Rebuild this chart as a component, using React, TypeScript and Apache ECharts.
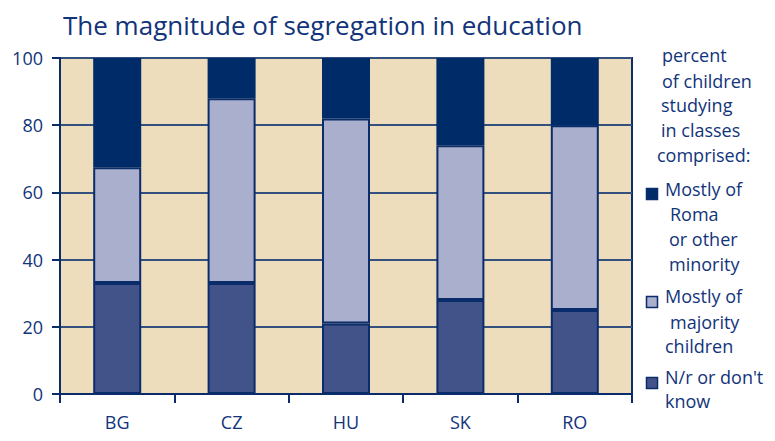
import React, { useEffect, useRef } from "react";
import * as echarts from "echarts";

const categories = ["BG", "CZ", "HU", "SK", "RO"];
const nrValues = [33, 33, 21, 28, 25];
const majorityValues = [34.5, 55, 61, 46, 55];
const romaValues = [32.5, 12, 18, 26, 20];
const seriesNames = ["N/r or don't know", "Mostly of majority children", "Mostly of Roma or other minority"];
const yTicks = [0, 20, 40, 60, 80, 100];
const titleText = "The magnitude of segregation in education";
const legendHeader = ["percent", "of children", "studying", "in classes", "comprised:"];
const romaLines = ["Mostly of", "Roma", "or other", "minority"];
const majorityLines = ["Mostly of", "majority", "children"];
const nrLines = ["N/r or don't", "know"];

const NAVY = "#0B2C6B";
const TEXT = "#12347A";
const DARK = "#002B69";
const LIGHT = "#A9AFCC";
const MEDIUM = "#42538A";
const BG = "#EEDDBD";
const FONT = "Open Sans";

export default function App() {
  const ref = useRef<HTMLDivElement>(null);
  useEffect(() => {
    if (!ref.current) return;
    const chart = echarts.init(ref.current, null, { renderer: "svg" });
    const fs = 18;
    const graphics: any[] = [];
    const headerX = [662, 662, 661, 661, 657];
    const headerY = [57, 83, 107, 132, 157];
    legendHeader.forEach((t, i) => {
      graphics.push({
        type: "text",
        left: headerX[i],
        top: headerY[i] - 11,
        style: { text: t, fill: TEXT, font: `${fs}px "${FONT}"` },
      });
    });
    const addItem = (lines: string[], xs: number[], ys: number[], sqY: number, color: string) => {
      graphics.push({
        type: "rect",
        shape: { x: 646.5, y: sqY, width: 11, height: 11 },
        style: { fill: color, stroke: NAVY, lineWidth: 1.5 },
      });
      lines.forEach((t, i) => {
        graphics.push({
          type: "text",
          left: xs[i],
          top: ys[i] - 11,
          style: { text: t, fill: TEXT, font: `${fs}px "${FONT}"` },
        });
      });
    };
    addItem(romaLines, [665, 670, 669, 669], [191, 216, 241, 266], 188.5, DARK);
    addItem(majorityLines, [665, 670, 665], [298, 324, 348], 296.5, LIGHT);
    addItem(nrLines, [665, 665], [379, 403], 377.5, MEDIUM);

    const mk = (name: string, data: number[], color: string) => ({
      name,
      type: "bar",
      stack: "total",
      data,
      barWidth: 48,
      itemStyle: { color, borderColor: NAVY, borderWidth: name === seriesNames[2] ? 0 : 2 },
    });

    chart.setOption({
      animation: false,
      title: {
        text: titleText,
        left: 58,
        top: 7,
        textStyle: { fontFamily: FONT, fontSize: 26, fontWeight: "normal", color: TEXT },
      },
      grid: {
        left: 60,
        right: 143,
        top: 58,
        bottom: 47,
        show: true,
        backgroundColor: BG,
        borderColor: NAVY,
        borderWidth: 2,
      },
      xAxis: {
        type: "category",
        data: categories,
        axisLine: { lineStyle: { color: NAVY, width: 2 } },
        axisTick: { show: true, length: 9, lineStyle: { color: NAVY, width: 2 } },
        axisLabel: { margin: 19, fontSize: 18, fontFamily: FONT, color: TEXT },
      },
      yAxis: {
        type: "value",
        min: yTicks[0],
        max: yTicks[yTicks.length - 1],
        interval: 20,
        axisLine: { show: true, lineStyle: { color: NAVY, width: 2 } },
        axisTick: { show: true, length: 8, lineStyle: { color: NAVY, width: 2 } },
        axisLabel: { margin: 17, fontSize: 18, fontFamily: FONT, color: TEXT },
        splitLine: { show: true, lineStyle: { color: "#34507F", width: 2 } },
      },
      series: [
        mk(seriesNames[0], nrValues, MEDIUM),
        mk(seriesNames[1], majorityValues, LIGHT),
        mk(seriesNames[2], romaValues, DARK),
      ],
      graphic: graphics,
    });
    return () => chart.dispose();
  }, []);
  return <div ref={ref} style={{ width: 775, height: 441, position: "absolute", left: 0, top: 0 }} />;
}
